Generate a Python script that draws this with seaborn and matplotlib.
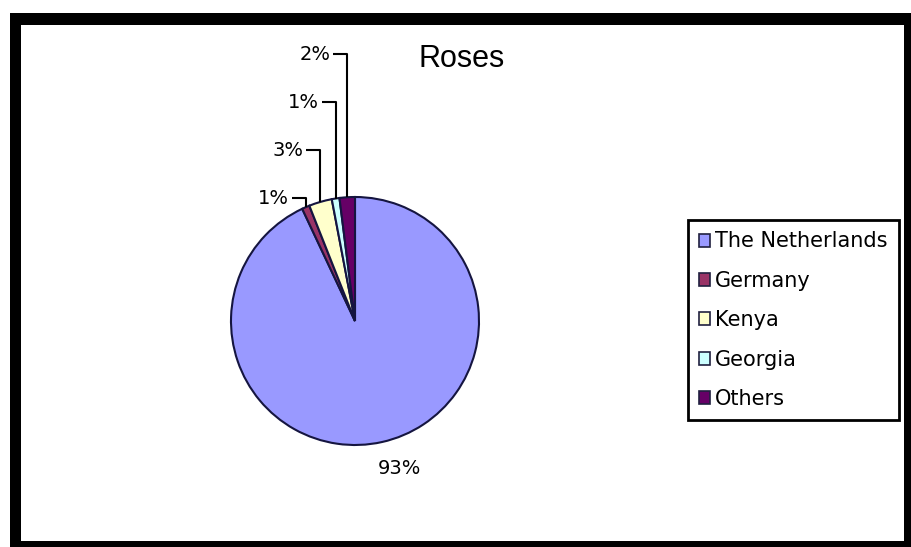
import matplotlib
matplotlib.use("Agg")
import matplotlib.pyplot as plt
from matplotlib.patches import Rectangle, Patch
import seaborn as sns
import numpy as np

# ---- data ----
countries = ["The Netherlands", "Germany", "Kenya", "Georgia", "Others"]
shares = [93, 1, 3, 1, 2]
colors = ["#9999FF", "#993366", "#FFFFCC", "#CCFFFF", "#660066"]
title = "Roses"

sns.set_theme(style="white")
plt.rcParams['font.family'] = ['DejaVu Sans']
plt.rcParams['text.color'] = 'black'

W, H = 911, 547
fig = plt.figure(figsize=(W / 100, H / 100), dpi=100)
fig.patch.set_facecolor('white')

# outer black frame and inner white area
fig.add_artist(Rectangle((10 / W, 0), 1 - 10 / W, (H - 13) / H, transform=fig.transFigure,
                         facecolor='black', edgecolor='none', zorder=-10))
fig.add_artist(Rectangle((21 / W, 6 / H), (904 - 21) / W, (541 - 25) / H, transform=fig.transFigure,
                         facecolor='white', edgecolor='none', zorder=-9))

ax = fig.add_axes([0, 0, 1, 1])
ax.patch.set_visible(False)

cx, cy, R = 355, H - 321, 124
wedges, _ = ax.pie(shares, colors=colors, startangle=90, counterclock=False,
                   center=(cx, cy), radius=R,
                   wedgeprops=dict(edgecolor='#151540', linewidth=1.5))
ax.set_xlim(0, W)
ax.set_ylim(0, H)
ax.set_aspect('auto')
ax.axis('off')

# labels
for i, (w, v) in enumerate(zip(wedges, shares)):
    mid = np.deg2rad((w.theta1 + w.theta2) / 2)
    if i == 0:
        px = cx + 1.22 * R * np.cos(mid)
        py = cy + 1.22 * R * np.sin(mid)
        ax.annotate(f"{v}%", (px, py), xytext=(8, 0), textcoords='offset points',
                    ha='center', va='center', fontsize=14, color='black')
    else:
        k = i - 1
        ex = cx + R * np.cos(mid)
        ey = cy + R * np.sin(mid)
        ylab = H - (198 - 48 * k)
        ax.plot([ex, ex, ex - 14], [ey, ylab, ylab], color='black', lw=1.5,
                solid_capstyle='butt', zorder=3)
        ax.text(ex - 17, ylab, f"{v}%", ha='right', va='center', fontsize=14, color='black')

ax.text(462, H - 59, title, ha='center', va='center', fontsize=22,
        family=['Liberation Sans', 'DejaVu Sans'], color='black')

handles = [Patch(facecolor=c, edgecolor='#202040', linewidth=1.2) for c in colors]
leg = ax.legend(handles, countries, loc='upper left',
                bbox_to_anchor=(688 / W, 1 - 220 / H), bbox_transform=fig.transFigure,
                borderaxespad=0, fontsize=15, frameon=True, fancybox=False, shadow=False,
                framealpha=1, edgecolor='black', handlelength=0.5, handleheight=0.6,
                handletextpad=0.25, labelspacing=0.93, borderpad=0.55, labelcolor='black')
leg.get_frame().set_linewidth(2)

fig.savefig("out.png", dpi=100, facecolor='white')
